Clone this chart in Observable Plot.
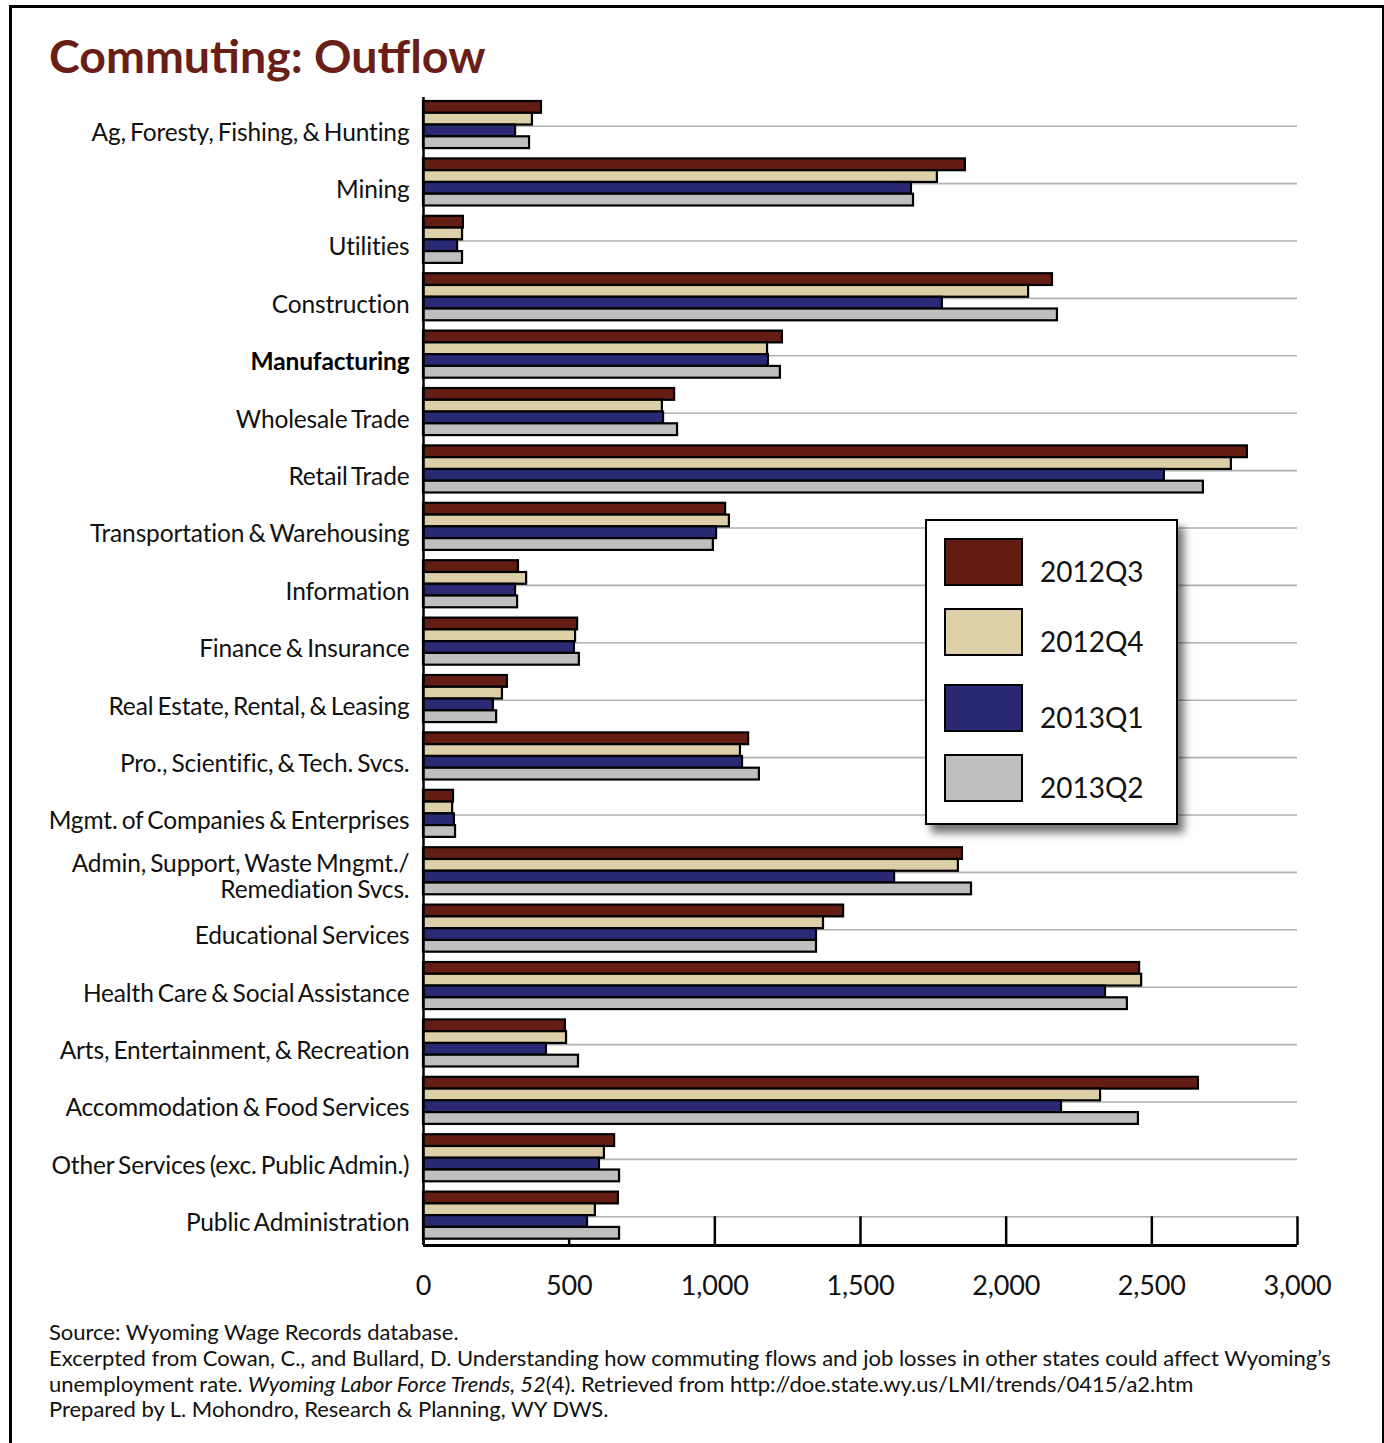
<!DOCTYPE html>
<html>
<head>
<meta charset="utf-8">
<script src="https://cdn.jsdelivr.net/npm/d3@7"></script>
<script src="https://cdn.jsdelivr.net/npm/@observablehq/plot@0.6"></script>
<style>
  html, body { margin: 0; padding: 0; background: #fff; }
  body { width: 1384px; height: 1443px; position: relative; overflow: hidden; font-family: Lato, "Noto Sans", sans-serif; }
  #frame { position: absolute; left: 9px; top: 5px; width: 1370px; height: 1500px; border: 3px solid #000; }
  #title { position: absolute; left: 49px; top: 27px; font-size: 46.5px; font-weight: 700; color: #6a1f16; white-space: nowrap; }
  #chart { position: absolute; left: 0; top: 0; }
  #chart svg text { word-spacing: -2px; letter-spacing: -0.15px; }
  #legend { position: absolute; left: 925px; top: 519px; width: 249px; height: 302px; border: 2px solid #000; background: #fff; box-shadow: 6px 8px 8px rgba(0,0,0,0.55); }
  .sw { position: absolute; left: 17px; width: 75px; height: 44px; border: 2px solid #000; }
  .lt { position: absolute; left: 113px; font-size: 28px; color: #111; }
  #footer { position: absolute; left: 49px; top: 1319px; font-size: 22px; line-height: 25.8px; color: #111; white-space: nowrap; letter-spacing: -0.02px; }
</style>
</head>
<body>
<div id="frame"></div>
<div id="title">Commuting: Outflow</div>
<div id="chart"></div>
<div id="legend"></div>
<div id="footer">
Source: Wyoming Wage Records database.<br>
Excerpted from Cowan, C., and Bullard, D. Understanding how commuting flows and job losses in other states could affect Wyoming’s<br>
unemployment rate. <i>Wyoming Labor Force Trends, 52</i>(4). Retrieved from http://doe.state.wy.us/LMI/trends/0415/a2.htm<br>
Prepared by L. Mohondro, Research &amp; Planning, WY DWS.
</div>
<script>
const categories = [
  "Ag, Foresty, Fishing, & Hunting",
  "Mining",
  "Utilities",
  "Construction",
  "Manufacturing",
  "Wholesale Trade",
  "Retail Trade",
  "Transportation & Warehousing",
  "Information",
  "Finance & Insurance",
  "Real Estate, Rental, & Leasing",
  "Pro., Scientific, & Tech. Svcs.",
  "Mgmt. of Companies & Enterprises",
  "Admin, Support, Waste Mngmt./\nRemediation Svcs.",
  "Educational Services",
  "Health Care & Social Assistance",
  "Arts, Entertainment, & Recreation",
  "Accommodation & Food Services",
  "Other Services (exc. Public Admin.)",
  "Public Administration"
];
const boldCategories = ["Manufacturing"];
const seriesNames = ["2012Q3", "2012Q4", "2013Q1", "2013Q2"];
const seriesColors = ["#641d13", "#ddd0a8", "#292a73", "#bfbfbf"];

const v2012Q3 = [405, 1860, 137, 2159, 1232, 862, 2828, 1037, 326, 529, 288, 1116, 103, 1850, 1442, 2458, 487, 2660, 656, 669];
const v2012Q4 = [374, 1764, 134, 2077, 1181, 820, 2773, 1050, 354, 522, 271, 1088, 100, 1836, 1373, 2465, 491, 2324, 621, 590];
const v2013Q1 = [316, 1675, 117, 1781, 1184, 824, 2543, 1006, 316, 518, 240, 1095, 106, 1617, 1349, 2341, 422, 2190, 604, 563];
const v2013Q2 = [364, 1682, 134, 2176, 1225, 872, 2677, 995, 323, 535, 251, 1153, 110, 1881, 1349, 2416, 532, 2454, 673, 673];
const xTicks = [0, 500, 1000, 1500, 2000, 2500, 3000];

const seriesValues = [v2012Q3, v2012Q4, v2013Q1, v2013Q2];
const table = [];
categories.forEach((c, i) => {
  seriesNames.forEach((s, j) => {
    table.push({cat: c, i, series: s, j, value: seriesValues[j][i]});
  });
});
const groupStart = 0.07, barH = 0.205;
const idx = categories.map((c, i) => ({c, i}));
const single = idx.filter(d => !boldCategories.includes(d.c) && !d.c.includes("\n"));
const multi = idx.filter(d => d.c.includes("\n"));
const bold = idx.filter(d => boldCategories.includes(d.c));

const labelOpts = {x: 0, y: d => d.i + 0.5, text: d => d.c, textAnchor: "end", dx: -14,
  fontSize: 24.5, fill: "#111", lineHeight: 1.07, fontFamily: "Lato, sans-serif"};

const chart = Plot.plot({
  width: 1384,
  height: 1310,
  marginLeft: 423,
  marginRight: 87,
  marginTop: 97,
  marginBottom: 65,
  style: {fontFamily: "Lato, 'Noto Sans', sans-serif", background: "transparent", color: "#000"},
  x: {domain: [0, 3000], label: null},
  y: {domain: [0, categories.length], reverse: true, axis: null},
  color: {domain: seriesNames, range: seriesColors},
  marks: [
    Plot.ruleY(idx, {y: d => d.i + 0.5, x1: 0, x2: 3000, stroke: "#b0b0b0", strokeWidth: 1.6}),
    Plot.ruleX(xTicks, {x: d => d, y1: categories.length - 0.5, y2: categories.length, stroke: "#000", strokeWidth: 2.5}),
    Plot.rectX(table, {
      x1: 0, x2: "value",
      y1: d => d.i + groupStart + d.j * barH,
      y2: d => d.i + groupStart + (d.j + 1) * barH,
      fill: "series", stroke: "#000", strokeWidth: 2.2
    }),
    Plot.ruleX([0], {y1: 0, y2: categories.length, stroke: "#000", strokeWidth: 2.5}),
    Plot.ruleY([categories.length], {x1: 0, x2: 3000, stroke: "#000", strokeWidth: 3}),
    Plot.text(single, {...labelOpts, dy: 6}),
    Plot.text(multi, {...labelOpts, dy: 4}),
    Plot.text(bold, {...labelOpts, dy: 6, fill: "#000", fontWeight: 700}),
    Plot.axisX({ticks: xTicks, tickSize: 0, tickPadding: 30, fontSize: 27, tickFormat: d3.format(","), fill: "#111", label: null})
  ]
});
document.getElementById("chart").appendChild(chart);

const legend = document.getElementById("legend");
const swTops = [17, 87, 163, 233];
const txtTops = [33, 103, 179, 249];
seriesNames.forEach((s, j) => {
  const sw = document.createElement("div");
  sw.className = "sw";
  sw.style.top = swTops[j] + "px";
  sw.style.background = seriesColors[j];
  legend.appendChild(sw);
  const t = document.createElement("div");
  t.className = "lt";
  t.style.top = txtTops[j] + "px";
  t.textContent = s;
  legend.appendChild(t);
});
</script>
</body>
</html>
